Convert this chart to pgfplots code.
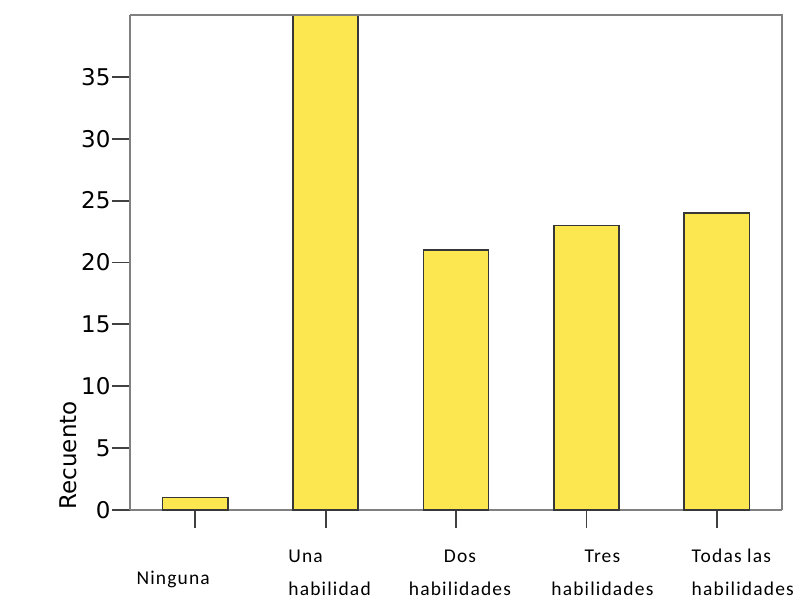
\documentclass[border=0pt]{standalone}
\usepackage{fontspec}
\setmainfont{DejaVu Sans}
\newfontfamily\catfont[LetterSpace=6.0]{Carlito}
\usepackage{pgfplots}
\pgfplotsset{compat=1.18}
\definecolor{barfill}{RGB}{252,231,80}
\definecolor{baredge}{RGB}{55,55,55}
\definecolor{axgray}{RGB}{128,128,128}
\definecolor{tickgray}{RGB}{64,64,64}
\begin{document}
\begin{tikzpicture}
\begin{axis}[
  scale only axis,
  width=652pt, height=495pt,
  xmin=-0.5, xmax=4.5,
  ymin=0, ymax=40,
  ytick={0,5,10,15,20,25,30,35},
  xtick={1,2,3,4},
  xticklabels={
    {\hspace*{8pt}\begin{tabular}{@{}l@{}}Una\\habilidad\end{tabular}},
    {\hspace*{8pt}\begin{tabular}{@{}c@{}}Dos\\habilidades\end{tabular}},
    {\hspace*{32pt}\begin{tabular}{@{}c@{}}Tres\\habilidades\end{tabular}},
    {\hspace*{52pt}\begin{tabular}{@{}l@{}}Todas las\\habilidades\end{tabular}}},
  extra x ticks={0},
  extra x tick labels={{\begin{tabular}{@{}c@{}}Ninguna\end{tabular}}},
  extra x tick style={xticklabel style={xshift=-22pt, yshift=-5.5pt}},
  tick align=outside,
  major tick length=18pt,
  axis x line*=bottom, axis y line*=left,
  axis line style={draw=axgray, line width=2.2pt},
  every tick/.style={draw=tickgray, line width=1.8pt},
  /pgf/number format/assume math mode=true,
  yticklabel style={font=\fontsize{23}{27}\selectfont, text=black, xshift=2pt},
  xticklabel style={font=\catfont\fontsize{19.5}{33}\selectfont, anchor=center, yshift=-44pt, text=black, inner sep=0pt},
  ylabel={Recuento},
  ylabel style={font=\fontsize{23}{27}\selectfont, at={([shift={(-62pt,-3pt)}]rel axis cs:0,0)}, anchor=west},
  clip=false,
]
\addplot[ybar, bar width=0.5, fill=barfill, draw=baredge, line width=1.6pt] coordinates {(0,1) (1,40) (2,21) (3,23) (4,24)};
\draw[axgray, line width=2.2pt] (rel axis cs:0,1) -- (rel axis cs:1,1) -- (rel axis cs:1,0);
\end{axis}
\path ([shift={(-130pt,-87pt)}]current axis.south west) rectangle ([shift={(20pt,15pt)}]current axis.north east);
\end{tikzpicture}
\end{document}
